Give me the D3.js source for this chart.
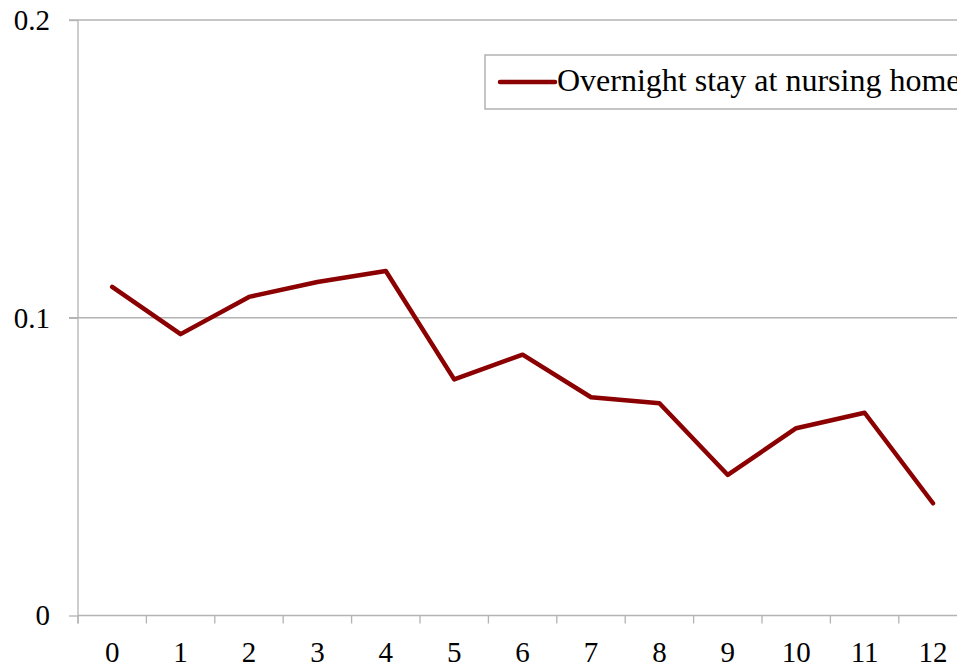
<!DOCTYPE html>
<html>
<head>
<meta charset="utf-8">
<script src="https://cdn.jsdelivr.net/npm/d3@7"></script>
<style>
  body { margin: 0; background: #fff; }
  svg text { font-family: "Times New Roman", "Liberation Serif", "DejaVu Serif", serif; }
</style>
</head>
<body>
<div id="chart"></div>
<script>
const periods = ["0", "1", "2", "3", "4", "5", "6", "7", "8", "9", "10", "11", "12"];
const overnightStay = [0.1104, 0.0945, 0.1070, 0.1120, 0.1157, 0.0793, 0.0876,
                       0.0733, 0.0713, 0.0472, 0.0629, 0.0681, 0.0377];
const yTicks = [0, 0.1, 0.2];
const seriesName = "Overnight stay at nursing home";

function main() {
    const width = 957, height = 668;
    const left = 78, top = 20, bottom = 615.5;
    const bandW = 68.4;
    const fontSize = 29;

    const svg = d3.select("#chart").append("svg")
        .attr("width", width)
        .attr("height", height);

    const x = d3.scaleBand()
        .domain(periods)
        .range([left, left + bandW * periods.length]);

    const y = d3.scaleLinear()
        .domain([0, 0.2])
        .range([bottom, top]);

    // gridlines
    svg.append("g")
        .selectAll("line")
        .data(yTicks.filter(d => d > 0))
        .enter().append("line")
        .attr("x1", left - 9)
        .attr("x2", width)
        .attr("y1", d => y(d))
        .attr("y2", d => y(d))
        .attr("stroke", "#b3b3b3")
        .attr("stroke-width", 1.3);

    // y axis
    const yAxis = svg.append("g")
        .attr("transform", `translate(${left},0)`)
        .call(d3.axisLeft(y).tickValues(yTicks).tickSize(9).tickFormat(d => d === 0 ? "0" : d3.format(".1f")(d)));
    yAxis.attr("font-family", null);
    yAxis.select(".domain").remove();
    yAxis.append("line")
        .attr("x1", 0).attr("x2", 0)
        .attr("y1", top).attr("y2", bottom + 8)
        .attr("stroke", "#b3b3b3").attr("stroke-width", 1.3);
    yAxis.selectAll(".tick line").attr("stroke", "#b3b3b3").attr("stroke-width", 1.3);
    yAxis.selectAll(".tick text")
        .attr("x", -28)
        .attr("font-size", fontSize)
        .attr("fill", "#000");

    // x axis
    const xAxis = svg.append("g")
        .attr("transform", `translate(0,${bottom})`);
    xAxis.append("line")
        .attr("x1", left).attr("x2", width)
        .attr("stroke", "#b3b3b3").attr("stroke-width", 1.3);
    xAxis.selectAll("line.tk")
        .data(d3.range(periods.length + 1))
        .enter().append("line")
        .attr("class", "tk")
        .attr("x1", i => left + i * x.step())
        .attr("x2", i => left + i * x.step())
        .attr("y1", 0).attr("y2", 8)
        .attr("stroke", "#b3b3b3").attr("stroke-width", 1.3);
    xAxis.selectAll("text")
        .data(periods)
        .enter().append("text")
        .attr("x", d => x(d) + x.bandwidth() / 2)
        .attr("y", 46)
        .attr("text-anchor", "middle")
        .attr("font-size", fontSize)
        .attr("fill", "#000")
        .text(d => d);

    // line
    const line = d3.line()
        .x((d, i) => x(periods[i]) + x.bandwidth() / 2)
        .y(d => y(d));

    svg.append("path")
        .datum(overnightStay)
        .attr("fill", "none")
        .attr("stroke", "#8b0000")
        .attr("stroke-width", 4.5)
        .attr("stroke-linejoin", "round")
        .attr("stroke-linecap", "round")
        .attr("d", line);

    // legend (runs past the right edge, as in the original)
    const lg = svg.append("g").attr("transform", "translate(485,55)");
    lg.append("rect")
        .attr("width", 500).attr("height", 54)
        .attr("fill", "#fff")
        .attr("stroke", "#a6a6a6").attr("stroke-width", 1.3);
    lg.append("line")
        .attr("x1", 15).attr("x2", 70)
        .attr("y1", 27).attr("y2", 27)
        .attr("stroke", "#8b0000").attr("stroke-width", 4.5)
        .attr("stroke-linecap", "round");
    lg.append("text")
        .attr("x", 72).attr("y", 36)
        .attr("font-size", 32)
        .attr("fill", "#000")
        .text(seriesName);
}
main();
</script>
</body>
</html>
